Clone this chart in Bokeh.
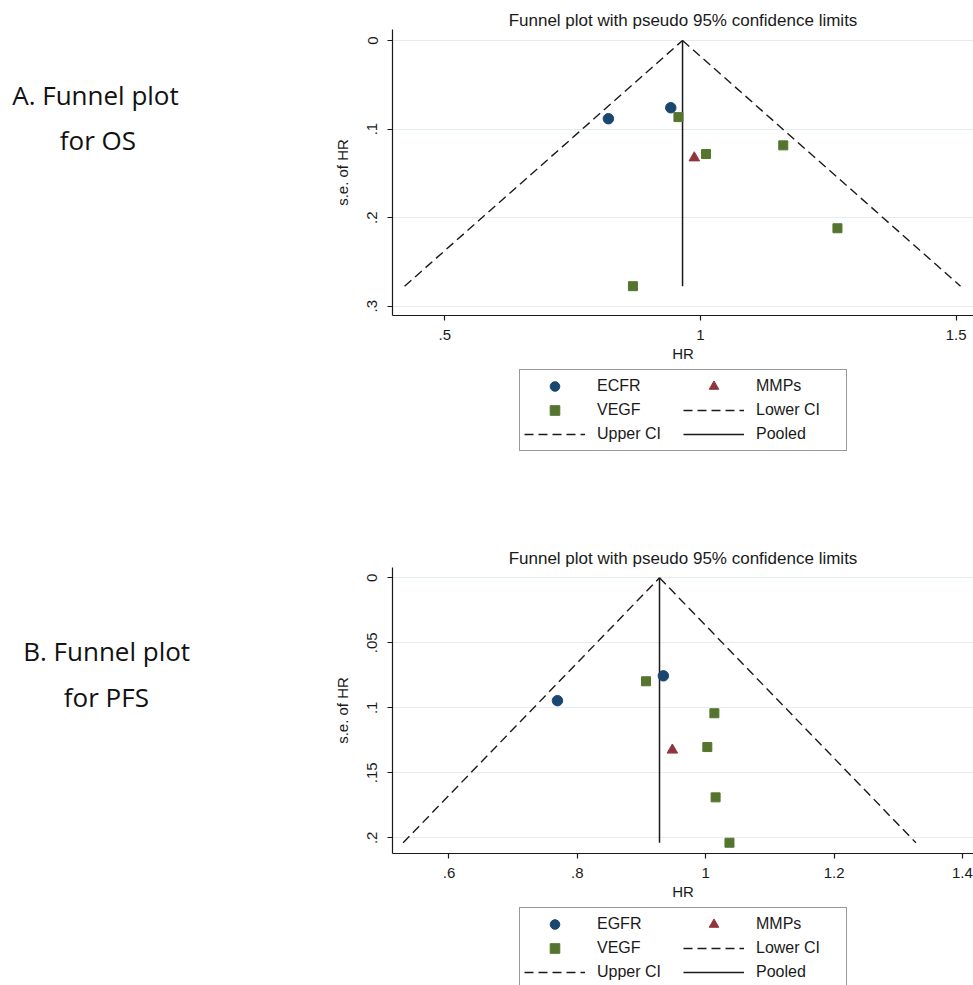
from bokeh.plotting import figure
from bokeh.models import Range1d, FixedTicker, Legend, LegendItem, Label
from bokeh.layouts import column, row
from bokeh.embed import file_html
from bokeh.resources import INLINE

# ---------------- Panel A: OS ----------------
a_egfr_hr = [0.820, 0.942]
a_egfr_se = [0.0883, 0.0759]
a_vegf_hr = [0.957, 1.011, 1.162, 1.268, 0.868]
a_vegf_se = [0.0865, 0.1282, 0.1184, 0.2120, 0.2774]
a_mmp_hr = [0.988]
a_mmp_se = [0.1325]
a_pooled = 0.965
a_xticks = [0.5, 1.0, 1.5]
a_xlabels = [".5", "1", "1.5"]
a_yticks = [0.0, 0.1, 0.2, 0.3]
a_ylabels = ["0", ".1", ".2", ".3"]
a_legend_labels = ["ECFR", "VEGF", "Upper CI", "MMPs", "Lower CI", "Pooled"]
a_side_text = ["A. Funnel plot", "for OS"]

# ---------------- Panel B: PFS ----------------
b_egfr_hr = [0.769, 0.934]
b_egfr_se = [0.0945, 0.0754]
b_vegf_hr = [0.907, 1.0135, 1.0025, 1.0154, 1.037]
b_vegf_se = [0.0796, 0.1042, 0.1302, 0.1689, 0.2038]
b_mmp_hr = [0.948]
b_mmp_se = [0.1325]
b_pooled = 0.928
b_xticks = [0.6, 0.8, 1.0, 1.2, 1.4]
b_xlabels = [".6", ".8", "1", "1.2", "1.4"]
b_yticks = [0.0, 0.05, 0.1, 0.15, 0.2]
b_ylabels = ["0", ".05", ".1", ".15", ".2"]
b_legend_labels = ["EGFR", "VEGF", "Upper CI", "MMPs", "Lower CI", "Pooled"]
b_side_text = ["B. Funnel plot", "for PFS"]

Z95 = 1.96
TITLE = "Funnel plot with pseudo 95% confidence limits"

NAVY = "#1a476f"
MAROON = "#90353b"
GREEN = "#55752f"
INK = "#1a1a1a"
GRID = "#e3ecef"
FONT = "Liberation Sans"

RIGHT_W = 643
SIDE_W = 330
TOTAL_H = 985


def bare_figure(width, height, xr, yr):
    f = figure(width=width, height=height, output_backend="svg", toolbar_location=None,
               x_range=Range1d(*xr), y_range=Range1d(*yr),
               x_axis_type=None, y_axis_type=None, min_border=0)
    f.outline_line_color = None
    f.background_fill_color = "white"
    f.border_fill_color = "white"
    return f


def draw_series(p, egfr_hr, egfr_se, vegf_hr, vegf_se, mmp_hr, mmp_se, pooled):
    se_max = max(egfr_se + vegf_se + mmp_se)
    r_lower = p.line([pooled - Z95 * se_max, pooled], [se_max, 0.0],
                     line_color=INK, line_width=1.4, line_dash="9 5")
    r_upper = p.line([pooled, pooled + Z95 * se_max], [0.0, se_max],
                     line_color=INK, line_width=1.4, line_dash="9 5")
    r_pooled = p.line([pooled, pooled], [0.0, se_max], line_color=INK, line_width=1.5)
    r_egfr = p.scatter(egfr_hr, egfr_se, marker="circle", size=10.5,
                       fill_color=NAVY, line_color=NAVY)
    r_vegf = p.scatter(vegf_hr, vegf_se, marker="square", size=9,
                       fill_color=GREEN, line_color=GREEN)
    r_mmp = p.scatter(mmp_hr, mmp_se, marker="triangle", size=10.5,
                      fill_color=MAROON, line_color=MAROON)
    return [r_egfr, r_vegf, r_upper, r_mmp, r_lower, r_pooled]


def make_panel(height, border_top, border_bottom, xr, yr, series,
               xticks, xlabels, yticks, ylabels):
    p = figure(width=RIGHT_W, height=height, output_backend="svg", toolbar_location=None,
               x_range=Range1d(*xr), y_range=Range1d(*yr),
               min_border_left=60, min_border_right=0,
               min_border_top=border_top, min_border_bottom=border_bottom)
    p.outline_line_color = None
    p.background_fill_color = "white"
    p.border_fill_color = "white"

    p.title.text = TITLE
    p.title.align = "center"
    p.title.standoff = 0
    p.title.text_font = FONT
    p.title.text_font_size = "17px"
    p.title.text_font_style = "normal"
    p.title.text_color = INK

    draw_series(p, *series)

    for ax, ticks, labels in ((p.xaxis, xticks, xlabels), (p.yaxis, yticks, ylabels)):
        ax.ticker = FixedTicker(ticks=ticks)
        ax.major_label_overrides = dict(zip(ticks, labels))
        ax.axis_line_color = INK
        ax.axis_line_width = 1.2
        ax.major_tick_line_color = INK
        ax.major_tick_line_width = 1.2
        ax.major_tick_out = 5
        ax.major_tick_in = 0
        ax.minor_tick_out = 0
        ax.minor_tick_in = 0
        ax.major_label_text_font = FONT
        ax.major_label_text_font_size = "15px"
        ax.major_label_text_color = INK
        ax.axis_label_text_font = FONT
        ax.axis_label_text_font_size = "15px"
        ax.axis_label_text_font_style = "normal"
        ax.axis_label_text_color = INK
    p.xaxis.axis_label = "HR"
    p.yaxis.axis_label = "s.e. of HR"
    p.xaxis.major_label_standoff = 9
    p.xaxis.axis_label_standoff = 2
    p.yaxis.major_label_standoff = 10
    p.yaxis.axis_label_standoff = 14
    p.yaxis.major_label_orientation = "vertical"

    p.xgrid.visible = False
    p.ygrid.grid_line_color = GRID
    p.ygrid.grid_line_width = 1
    return p


def make_legend_strip(height, loc, labels, series):
    lf = bare_figure(RIGHT_W, height, (0, 1), (0, 1))
    lf.min_border_left = 60
    renderers = draw_series(lf, *series)
    for r in renderers:
        r.visible = False  # only used to draw the legend keys
    items = [LegendItem(label=l, renderers=[r]) for l, r in zip(labels, renderers)]
    legend = Legend(items=items, location=loc, orientation="vertical",
                    ncols=2, nrows=3,
                    glyph_width=61, glyph_height=24, label_height=24, label_width=86,
                    label_standoff=12, spacing=0, padding=4, margin=0,
                    border_line_color="#333333", border_line_width=1.2,
                    background_fill_color="white", background_fill_alpha=1.0,
                    inactive_fill_alpha=0.0,
                    label_text_font=FONT, label_text_font_size="16px",
                    label_text_color=INK)
    lf.add_layout(legend, "center")
    return lf


series_a = (a_egfr_hr, a_egfr_se, a_vegf_hr, a_vegf_se, a_mmp_hr, a_mmp_se, a_pooled)
series_b = (b_egfr_hr, b_egfr_se, b_vegf_hr, b_vegf_se, b_mmp_hr, b_mmp_se, b_pooled)

pa = make_panel(365, 29, 50, (0.3977, 1.5341), (0.3105, -0.01242), series_a,
                a_xticks, a_xlabels, a_yticks, a_ylabels)
la = make_legend_strip(105, (127, 19), a_legend_labels, series_a)

pb = make_panel(433, 97, 50, (0.5120, 1.4172), (0.21208, -0.00792), series_b,
                b_xticks, b_xlabels, b_yticks, b_ylabels)
lb = make_legend_strip(82, (127, -4), b_legend_labels, series_b)

# left-hand panel captions (page pixel positions, y downward)
side = bare_figure(SIDE_W, TOTAL_H, (0, SIDE_W), (TOTAL_H, 0))
side_lines = [(a_side_text[0], 11.7, 94), (a_side_text[1], 59.3, 139.5),
              (b_side_text[0], 22.7, 650), (b_side_text[1], 63.3, 696)]
for txt, x, y in side_lines:
    side.add_layout(Label(x=x, y=y, text=txt, text_align="left", text_baseline="alphabetic",
                          text_font="Open Sans", text_font_size="26px",
                          text_color="#111111"))

layout = row(side, column(pa, la, pb, lb))
open("out.html", "w").write(file_html(layout, INLINE))
